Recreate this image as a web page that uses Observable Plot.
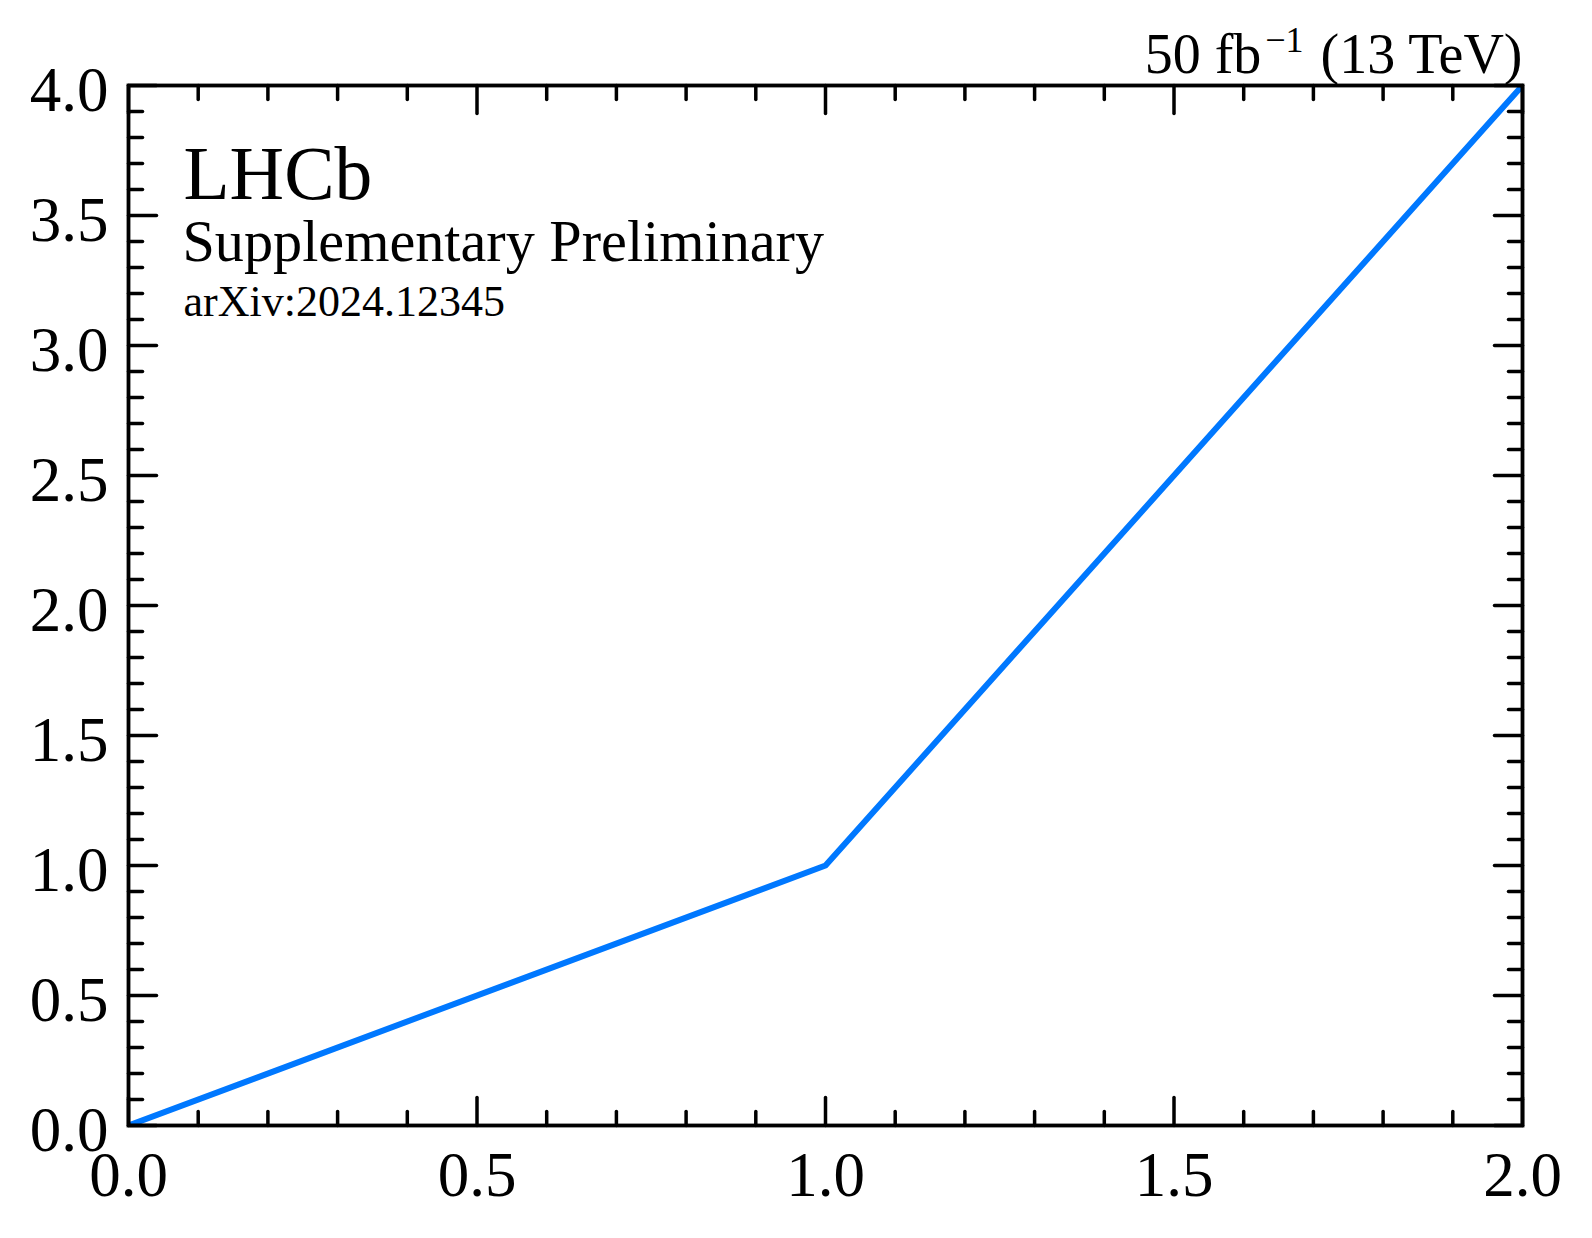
<!DOCTYPE html>
<html>
<head>
<meta charset="utf-8">
<script src="https://cdn.jsdelivr.net/npm/d3@7"></script>
<script src="https://cdn.jsdelivr.net/npm/@observablehq/plot@0.6"></script>
<style>
  html, body { margin: 0; padding: 0; background: #ffffff; }
  #chart svg { display: block; }
</style>
</head>
<body>
<div id="chart"></div>
<script>
// ---- data ----
const xValues = [0, 1, 2];
const yValues = [0, 1, 4];

// ---- ticks ----
const xMajorTicks = [0, 0.5, 1, 1.5, 2];
const xMinorTicks = [0.1, 0.2, 0.3, 0.4, 0.6, 0.7, 0.8, 0.9, 1.1, 1.2, 1.3, 1.4, 1.6, 1.7, 1.8, 1.9];
const yMajorTicks = [0, 0.5, 1, 1.5, 2, 2.5, 3, 3.5, 4];
const yMinorTicks = [0.1, 0.2, 0.3, 0.4, 0.6, 0.7, 0.8, 0.9, 1.1, 1.2, 1.3, 1.4, 1.6, 1.7, 1.8, 1.9,
                     2.1, 2.2, 2.3, 2.4, 2.6, 2.7, 2.8, 2.9, 3.1, 3.2, 3.3, 3.4, 3.6, 3.7, 3.8, 3.9];

// ---- texts ----
const experimentLabel = "LHCb";
const statusLabel = "Supplementary Preliminary";
const refLabel = "arXiv:2024.12345";
const lumiMain = "50 fb";
const lumiSup = "\u22121";
const lumiRest = " (13 TeV)";

const FONT = "'Liberation Serif', 'Times New Roman', Times, serif";
const lineColor = "#0078FF";

const points = xValues.map((x, i) => ({x, y: yValues[i]}));

const tickShape = {
  draw(context, l) {
    context.moveTo(0, 0);
    context.lineTo(0, -l);
  }
};

const MAJ = 28, MIN = 14, TW = 3.5;

function ticks(values, axis, side, len) {
  const opts = {length: len, anchor: "start", shape: tickShape, stroke: "black", strokeWidth: TW, clip: false};
  if (axis === "x") {
    return Plot.vector(values, {x: d => d, y: side === "bottom" ? 0 : 4, rotate: side === "bottom" ? 0 : 180, ...opts});
  } else {
    return Plot.vector(values, {y: d => d, x: side === "left" ? 0 : 2, rotate: side === "left" ? 90 : -90, ...opts});
  }
}

const chart = Plot.plot({
  width: 1592,
  height: 1238,
  marginLeft: 128,
  marginRight: 70,
  marginTop: 85,
  marginBottom: 113,
  style: {fontFamily: FONT, background: "#ffffff", color: "black"},
  x: {domain: [0, 2], nice: false},
  y: {domain: [0, 4], nice: false},
  marks: [
    Plot.line(points, {x: "x", y: "y", stroke: lineColor, strokeWidth: 6, clip: true}),
    Plot.frame({stroke: "black", strokeWidth: 3.8}),
    ticks(xMajorTicks, "x", "bottom", MAJ),
    ticks(xMinorTicks, "x", "bottom", MIN),
    ticks(xMajorTicks, "x", "top", MAJ),
    ticks(xMinorTicks, "x", "top", MIN),
    ticks(yMajorTicks, "y", "left", MAJ),
    ticks(yMinorTicks, "y", "left", MIN),
    ticks(yMajorTicks, "y", "right", MAJ),
    ticks(yMinorTicks, "y", "right", MIN),
    Plot.axisX({ticks: xMajorTicks, tickSize: 0, tickPadding: 26, tickFormat: d3.format(".1f"),
                fontSize: 63, fontFamily: FONT, fill: "black", label: null}),
    Plot.axisY({ticks: yMajorTicks, tickSize: 0, tickPadding: 20, tickFormat: d3.format(".1f"),
                fontSize: 63, fontFamily: FONT, fill: "black", label: null, dy: 5}),
    Plot.text([experimentLabel], {text: d => d, frameAnchor: "top-left", textAnchor: "start", lineAnchor: "middle",
                dx: 55, dy: 89, fontSize: 75.5, fontFamily: FONT, fill: "black"}),
    Plot.text([statusLabel], {text: d => d, frameAnchor: "top-left", textAnchor: "start", lineAnchor: "middle",
                dx: 54, dy: 157, fontSize: 58.2, fontFamily: FONT, fill: "black"}),
    Plot.text([refLabel], {text: d => d, frameAnchor: "top-left", textAnchor: "start", lineAnchor: "middle",
                dx: 55, dy: 216, fontSize: 44, fontFamily: FONT, fill: "black"}),
    Plot.text([lumiMain + lumiSup + lumiRest], {text: d => d, frameAnchor: "top-right", textAnchor: "end", lineAnchor: "middle",
                dx: 0, dy: -30, fontSize: 56, fontFamily: FONT, fill: "black"})
  ]
});

// superscript for luminosity label
d3.select(chart).selectAll("text").filter(function() {
  return this.textContent === lumiMain + lumiSup + lumiRest;
}).each(function() {
  const t = d3.select(this);
  t.text(null);
  t.append("tspan").text(lumiMain);
  t.append("tspan").attr("font-size", 36).attr("dx", 4).attr("dy", -21).text(lumiSup);
  t.append("tspan").attr("dx", 3).attr("dy", 21).text(lumiRest);
});

document.getElementById("chart").appendChild(chart);
</script>
</body>
</html>
